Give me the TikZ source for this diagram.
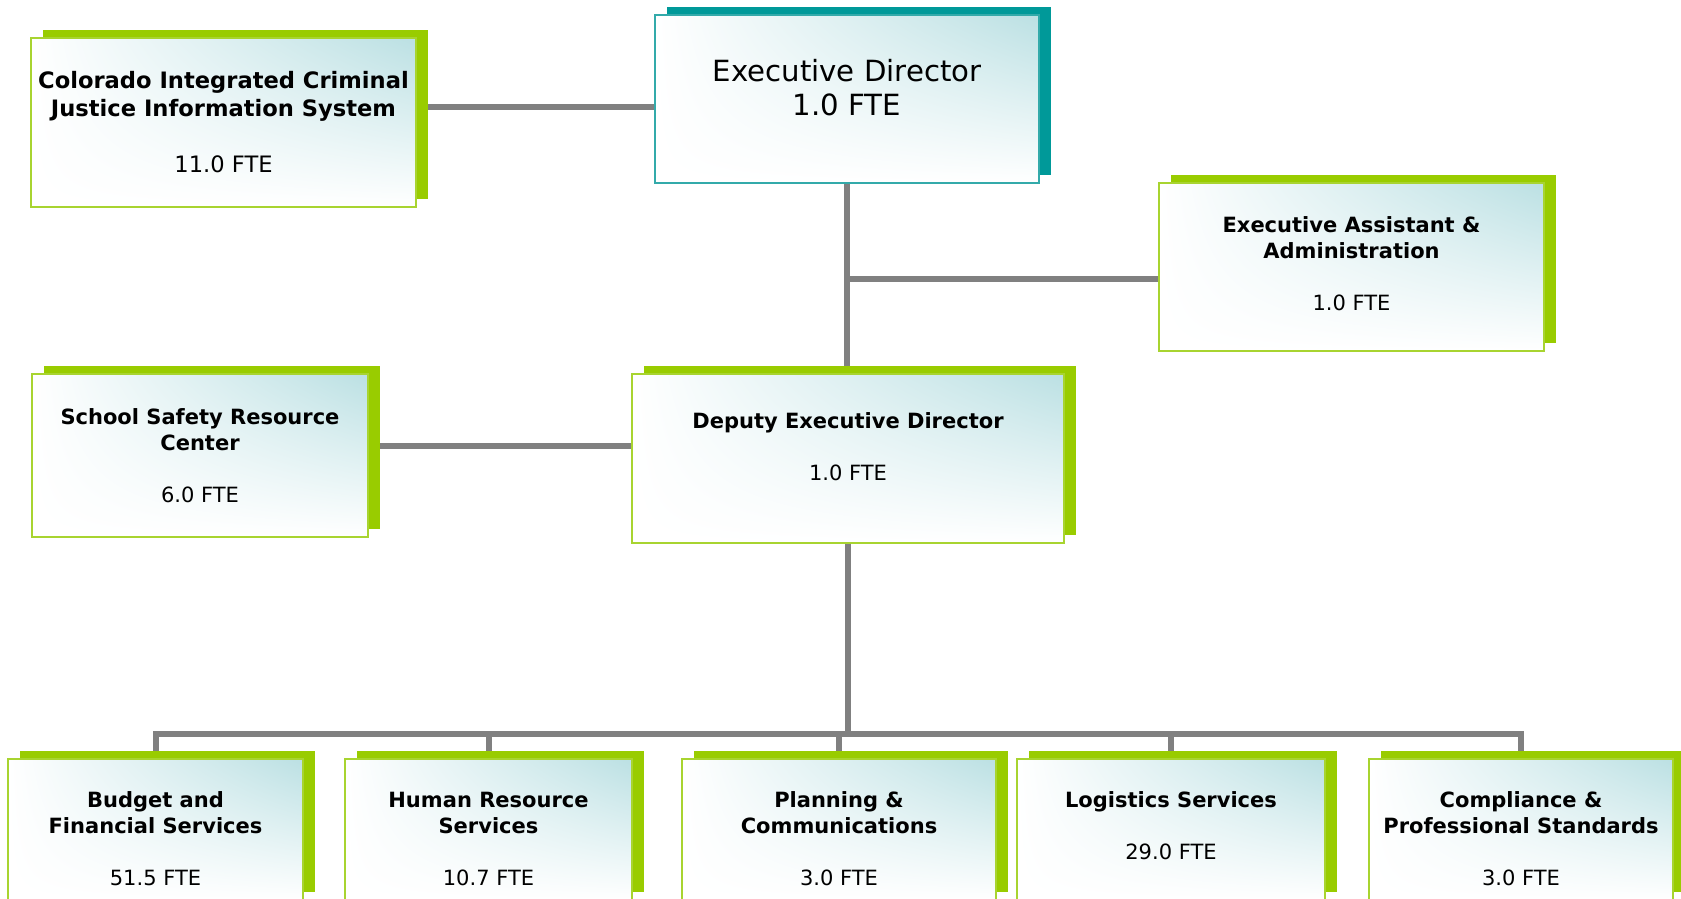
\documentclass[tikz,border=0pt]{standalone}
\usepackage{fontspec}
\setmainfont{DejaVu Sans}
\usetikzlibrary{shadows,shadings,backgrounds}

\definecolor{limeshadow}{RGB}{153,204,0}
\definecolor{limeborder}{RGB}{168,212,48}
\definecolor{tealshadow}{RGB}{0,153,153}
\definecolor{tealborder}{RGB}{51,170,170}
\definecolor{tint}{RGB}{187,224,227}
\definecolor{linkgray}{RGB}{128,128,128}

\tikzset{
    basebox/.style={line width=1pt, upper left=white, upper right=tint,
        lower left=white, lower right=white},
    unitbox/.style={basebox, draw=limeborder,
        general shadow={fill=limeshadow, shadow xshift=5.75pt, shadow yshift=4pt}},
    headbox/.style={basebox, draw=tealborder,
        general shadow={fill=tealshadow, shadow xshift=5.75pt, shadow yshift=4pt}},
    servicebox/.style={unitbox, minimum height=70.5pt},
    unittext/.style={align=center, inner sep=0pt, font=\fontsize{10.5}{13}\selectfont\bfseries},
    headtext/.style={align=center, inner sep=0pt, font=\fontsize{14.6}{17}\selectfont},
    link/.style={draw=linkgray, line width=3pt}
}

\begin{document}
\begin{tikzpicture}[x=0.5pt, y=-0.5pt]
    \useasboundingbox (0,0) rectangle (1681,899);

    % Top of the chart
    \node[headbox, minimum width=192pt, minimum height=84pt,
        label={[headtext, yshift=5.9pt]center:Executive Director\\1.0 FTE}] (exec) at (847,99) {};
    \node[unitbox, minimum width=192.5pt, minimum height=84.5pt,
        label={[unittext, font=\fontsize{11.3}{14}\selectfont\bfseries]center:Colorado Integrated Criminal\\Justice Information System\\[14pt]\mdseries 11.0 FTE}] (cicjis) at (223.5,122.5) {};
    \node[unitbox, minimum width=192.5pt, minimum height=84pt,
        label={[unittext, yshift=1.8pt]center:Executive Assistant \&\\Administration\\[13pt]\mdseries 1.0 FTE}] (assist) at (1351.5,267) {};

    % Deputy level
    \node[unitbox, minimum width=216pt, minimum height=84.5pt,
        label={[unittext, yshift=5.9pt]center:Deputy Executive Director\\[13pt]\mdseries 1.0 FTE}] (deputy) at (848,458.5) {};
    \node[unitbox, minimum width=168pt, minimum height=81.5pt,
        label={[unittext]center:School Safety Resource\\Center\\[13pt]\mdseries 6.0 FTE}] (school) at (200,455.5) {};

    % Services row
    \node[servicebox, minimum width=147.5pt,
        label={[unittext, yshift=-4.5pt]center:Budget and\\Financial Services\\[13pt]\mdseries 51.5 FTE}] (budget) at (155.5,829.5) {};
    \node[servicebox, minimum width=143.5pt,
        label={[unittext, yshift=-4.5pt]center:Human Resource\\Services\\[13pt]\mdseries 10.7 FTE}] (hr) at (488.5,829.5) {};
    \node[servicebox, minimum width=157pt,
        label={[unittext, yshift=-4.5pt]center:Planning \&\\Communications\\[13pt]\mdseries 3.0 FTE}] (planning) at (839,829.5) {};
    \node[servicebox, minimum width=154pt,
        label={[unittext, yshift=1.9pt]center:Logistics Services\\[13pt]\mdseries 29.0 FTE}] (logistics) at (1171,829.5) {};
    \node[servicebox, minimum width=152pt,
        label={[unittext, yshift=-4.5pt]center:Compliance \&\\Professional Standards\\[13pt]\mdseries 3.0 FTE}] (compliance) at (1521,829.5) {};

    % Connectors, behind the boxes
    \begin{scope}[on background layer]
        \coordinate (exl) at ([yshift=-4pt]exec.west);
        \draw[link] (exl) -- (exl -| cicjis.east);
        \draw[link] (exec.south) -- (exec.south |- deputy.north);
        \coordinate (asl) at ([yshift=-6pt]assist.west);
        \draw[link] (asl) -- (asl -| exec.south);
        \coordinate (dpl) at ([yshift=6.25pt]deputy.west);
        \draw[link] (dpl) -- (dpl -| school.east);

        % Bus to the services
        \coordinate (bus) at (0,734);
        \draw[link] (deputy.south) -- (deputy.south |- bus);
        \draw[link, line cap=rect] (budget.north |- bus) -- (compliance.north |- bus);
        \foreach \n in {budget,hr,planning,logistics,compliance}
            \draw[link] (\n.north |- bus) -- (\n.north);
    \end{scope}

\end{tikzpicture}
\end{document}
